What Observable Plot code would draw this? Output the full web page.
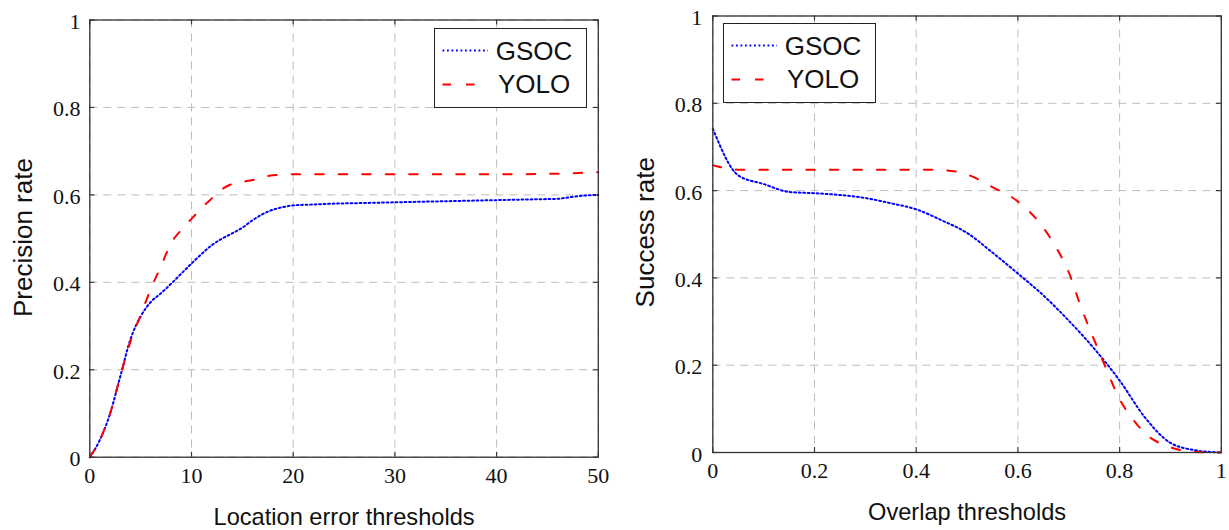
<!DOCTYPE html>
<html><head><meta charset="utf-8">
<script src="https://cdn.jsdelivr.net/npm/d3@7"></script>
<script src="https://cdn.jsdelivr.net/npm/@observablehq/plot@0.6"></script>
<style>
html,body{margin:0;padding:0;background:#fff;}
#wrap{position:relative;width:1229px;height:530px;overflow:hidden;background:#fff;}
.panel{position:absolute;top:0;}
.legend{position:absolute;background:#fff;border:1.3px solid #222;box-sizing:border-box;}
.legend svg{display:block;}
</style></head><body><div id="wrap"></div>
<script>
// ---------- data ----------
const seriesNames = ["GSOC", "YOLO"];
const seriesColors = ["#0000ff", "#ff0000"];

const precXTicks = [0, 10, 20, 30, 40, 50];
const succXTicks = [0, 0.2, 0.4, 0.6, 0.8, 1];
const yTicks = [0, 0.2, 0.4, 0.6, 0.8, 1];

const precGsocX = [0,1,2,3,4,5,6,7,8,9,10,11,12,13,14,15,16,17,18,19,20,22,24,26,28,30,32,34,36,38,40,42,44,46,47,48,49,50];
const precGsocY = [0,0.04,0.1,0.185,0.27,0.322,0.355,0.375,0.397,0.42,0.443,0.465,0.485,0.5,0.512,0.525,0.542,0.556,0.566,0.572,0.576,0.578,0.58,0.581,0.582,0.583,0.584,0.585,0.586,0.587,0.588,0.589,0.59,0.591,0.594,0.597,0.599,0.6];

const precYoloX = [0,1,2,3,4,5,6,7,8,9,10,11,12,13,14,15,16,17,18,19,20,25,30,35,40,45,48,50];
const precYoloY = [0,0.04,0.1,0.185,0.265,0.325,0.385,0.437,0.49,0.52,0.545,0.57,0.592,0.613,0.625,0.63,0.634,0.64,0.645,0.646,0.647,0.647,0.647,0.647,0.647,0.648,0.65,0.652];

const succGsocX = [0,0.05,0.1,0.15,0.2,0.25,0.3,0.35,0.4,0.45,0.5,0.55,0.6,0.65,0.7,0.75,0.8,0.85,0.9,0.95,1];
const succGsocY = [0.742,0.635,0.615,0.597,0.594,0.59,0.583,0.571,0.557,0.532,0.503,0.458,0.41,0.36,0.302,0.238,0.165,0.08,0.022,0.005,0];

const succYoloX = [0,0.05,0.1,0.15,0.2,0.25,0.3,0.35,0.4,0.45,0.5,0.55,0.6,0.65,0.675,0.7,0.725,0.75,0.775,0.8,0.825,0.85,0.9,0.95,1];
const succYoloY = [0.658,0.648,0.648,0.648,0.648,0.648,0.648,0.648,0.648,0.647,0.637,0.608,0.575,0.515,0.47,0.413,0.33,0.258,0.188,0.122,0.078,0.044,0.012,0.001,0];

// ---------- helpers ----------
const pairs = (xs, ys) => xs.map((x, i) => ({x, y: ys[i]}));
const SERIF = "Liberation Serif, DejaVu Serif, serif";
const SANS = "Liberation Sans, Arial, sans-serif";
const gsocStyle = {stroke: seriesColors[0], strokeWidth: 2, strokeDasharray: "1.8,2.7"};
const yoloStyle = {stroke: seriesColors[1], strokeWidth: 2, strokeDasharray: "8.5,15"};

function panel({left, width, mL, mR, mT, mB, xDomain, xTicks, xLabel, yLabel, gsoc, yolo, yPad, legend}) {
  const H = 530;
  const plotH = H - mT - mB;
  const plotW = width - mL - mR;
  const grid = {stroke: "#bdbdbd", strokeOpacity: 1, strokeWidth: 1, strokeDasharray: "8,6"};
  const tick = {stroke: "#3a3a3a", strokeWidth: 1.2};
  const chart = Plot.plot({
    width, height: H,
    marginLeft: mL, marginRight: mR, marginTop: mT, marginBottom: mB,
    style: {background: "transparent", color: "#111", overflow: "visible"},
    x: {domain: xDomain},
    y: {domain: [0, 1]},
    marks: [
      Plot.gridX(xTicks, grid),
      Plot.gridY(yTicks, grid),
      Plot.tickX(xTicks, {x: d => d, insetTop: plotH - 5, ...tick}),
      Plot.tickX(xTicks, {x: d => d, insetBottom: plotH - 5, ...tick}),
      Plot.tickY(yTicks, {y: d => d, insetRight: plotW - 5, ...tick}),
      Plot.tickY(yTicks, {y: d => d, insetLeft: plotW - 5, ...tick}),
      Plot.line(gsoc, {x: "x", y: "y", curve: "monotone-x", ...gsocStyle}),
      Plot.line(yolo, {x: "x", y: "y", curve: "monotone-x", ...yoloStyle}),
      Plot.frame({stroke: "#333", strokeWidth: 1.3}),
      Plot.axisX({ticks: xTicks, anchor: "bottom", tickSize: 0, tickPadding: 10, label: null,
        fontSize: 22, fontFamily: SERIF, tickFormat: d => String(d)}),
      Plot.axisY({ticks: yTicks, anchor: "left", tickSize: 0, tickPadding: yPad, label: null,
        fontSize: 22, fontFamily: SERIF, dy: 2, tickFormat: d => String(d)}),
      Plot.text([xLabel], {text: d => d, frameAnchor: "bottom", textAnchor: "middle", lineAnchor: "bottom", dy: 67.8,
        fontSize: 23.6, fontFamily: SANS, fill: "#111"}),
      Plot.text([yLabel.text], {text: d => d, frameAnchor: "left", textAnchor: "middle", lineAnchor: "bottom", rotate: -90,
        dx: yLabel.dx, dy: yLabel.dy, fontSize: 26, fontFamily: SANS, fill: "#111"})
    ]
  });
  const div = document.createElement("div");
  div.className = "panel";
  div.style.left = left + "px";
  div.appendChild(chart);
  document.getElementById("wrap").appendChild(div);

  // legend box
  const lg = document.createElement("div");
  lg.className = "legend";
  Object.assign(lg.style, {left: legend.x + "px", top: legend.y + "px", width: legend.w + "px", height: legend.h + "px"});
  document.getElementById("wrap").appendChild(lg);
  const svg = d3.select(lg).append("svg").attr("width", legend.w - 2).attr("height", legend.h - 2);
  const rows = [
    {name: seriesNames[0], style: gsocStyle, ly: 21.5, ty: 30.5},
    {name: seriesNames[1], style: yoloStyle, ly: 55.5, ty: 64}
  ];
  rows.forEach(r => {
    svg.append("line").attr("x1", 7.5).attr("x2", 53).attr("y1", r.ly).attr("y2", r.ly)
      .attr("stroke", r.style.stroke).attr("stroke-width", r.style.strokeWidth)
      .attr("stroke-dasharray", r.style.strokeDasharray);
    svg.append("text").attr("x", 99).attr("y", r.ty).attr("text-anchor", "middle")
      .style("font-family", SANS).attr("font-size", 26).attr("fill", "#111").text(r.name);
  });
}

panel({
  left: 0, width: 610, mL: 89.3, mR: 12.2, mT: 19.5, mB: 73.3,
  xDomain: [0, 50], xTicks: precXTicks, xLabel: "Location error thresholds",
  yLabel: {text: "Precision rate", dx: -58.3, dy: -1},
  gsoc: pairs(precGsocX, precGsocY), yolo: pairs(precYoloX, precYoloY), yPad: 9.3,
  legend: {x: 434, y: 28, w: 153, h: 79.5}
});
panel({
  left: 615, width: 614, mL: 97.3, mR: 8.2, mT: 15.5, mB: 78,
  xDomain: [0, 1], xTicks: succXTicks, xLabel: "Overlap thresholds",
  yLabel: {text: "Success rate", dx: -59, dy: -2},
  gsoc: pairs(succGsocX, succGsocY), yolo: pairs(succYoloX, succYoloY), yPad: 10.5,
  legend: {x: 723, y: 23, w: 152.5, h: 79.5}
});
</script>
</body></html>
